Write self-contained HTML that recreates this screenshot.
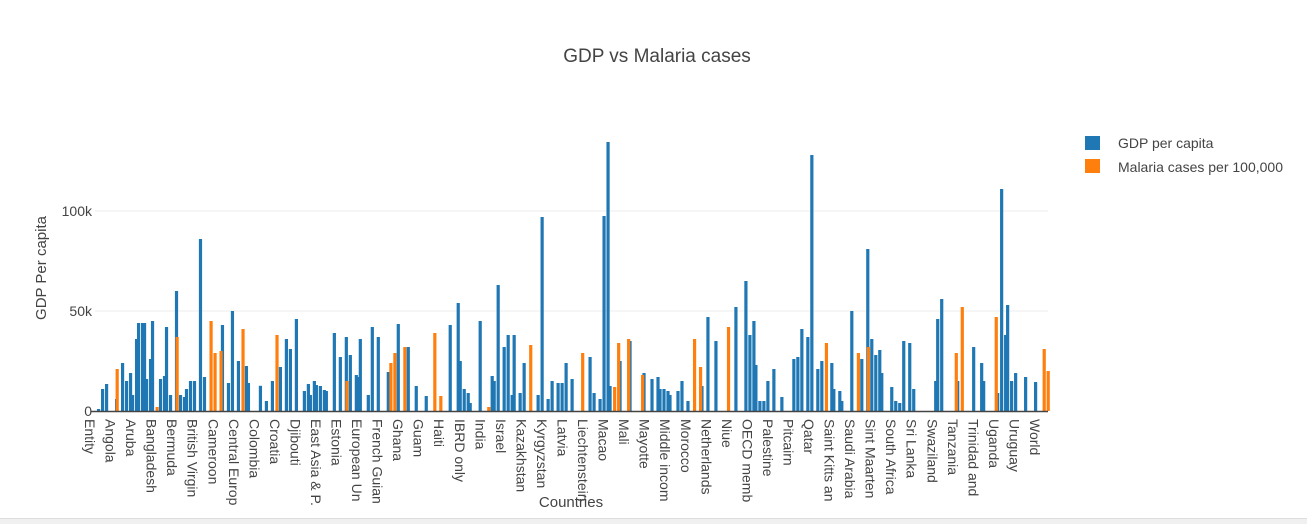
<!DOCTYPE html>
<html><head><meta charset="utf-8"><style>
body{margin:0;background:#fff;}
svg{display:block;font-family:"Liberation Sans","DejaVu Sans",sans-serif;}
</style></head><body>
<svg id="chart" width="1307" height="524" viewBox="0 0 1307 524">
<rect x="0" y="518" width="1307" height="6" fill="#f0f0f0"/>
<line x1="0" y1="518.5" x2="1307" y2="518.5" stroke="#ddd"/>
<text x="657" y="62" text-anchor="middle" font-size="19" fill="#444">GDP vs Malaria cases</text>
<g id="grid"></g>
<g id="bars"></g>
<g id="yticks"></g>
<g id="xticks"></g>
<text transform="translate(46,268) rotate(-90)" text-anchor="middle" font-size="15" fill="#444">GDP Per capita</text>
<text x="571" y="507" text-anchor="middle" font-size="15" fill="#444">Countries</text>
<g>
<g>
<rect x="1085" y="136" width="15" height="14" fill="#1f77b4"/>
<text x="1118" y="148" font-size="14" fill="#444">GDP per capita</text></g>
<g>
<rect x="1085" y="159" width="15" height="14" fill="#ff7f0e"/>
<text x="1118" y="172" font-size="14" fill="#444">Malaria cases per 100,000</text></g>
</g>
</svg>
<script>
const categoryCount = 477;
const gdpIndex = [1,3,5,10,13,15,17,18,20,21,23,24,25,27,28,32,34,35,37,40,42,44,45,47,49,52,54,63,66,68,71,75,76,82,85,88,92,95,97,100,104,106,107,109,110,112,114,115,119,122,125,127,130,131,132,136,138,141,146,151,156,160,165,177,181,182,184,186,187,192,198,199,201,204,206,208,209,212,214,221,223,226,228,231,233,235,238,247,249,252,254,256,257,262,267,274,278,281,282,284,286,287,291,293,296,303,306,310,320,325,327,329,330,332,334,336,339,343,349,351,353,356,358,361,363,368,369,372,373,378,383,386,388,390,392,393,398,400,402,404,407,409,420,421,423,431,439,443,444,451,453,455,456,458,460,465,470];
const gdpValues = [1,11,13.5,6,24,15,19,8,36,44,44,44,16,26,45,16,17.5,42,8,60,8,7,11,15,15,86,17,43,14,50,25,22.5,14,12.6,5,15,22,36,31,46,10,13.5,8,15,13,12.5,10.5,10,39,27,37,28,18,17,36,8,42,37,19.5,43.5,32,12.5,7.5,43,54,25,11,9,4,45,17.5,15,63,32,38,8,38,9,24,8,97,6,15,14,14,24,16,27,9,6,97.5,134.5,12.5,25,35,19,16,17,11,11,10,8,10,15,5,12.5,47,35,52,65,38,45,23,5,5,15,21,7,26,27,41,37,128,21,25,24,11,10,5,50,26,81,36,28,30.5,19,12,5,4,35,34,11,15,46,56,15,32,24,15,9,111,38,53,15,19,17,14.5];
const malariaIndex = [10,30,40,57,59,62,73,90,125,147,149,154,169,172,196,217,243,259,261,266,273,299,302,316,365,381,386,430,433,450,474,476];
const malariaValues = [21,2,37,45,29,30,41,38,15,24,29,32,39,7.5,2,33,29,12,34,36,18,36,22,42,34,29,32,29,52,47,31,20];
const yTickValues = [0,50,100];
const yTickLabels = ["0","50k","100k"];
const xTickLabels = ["Entity","Angola","Aruba","Bangladesh","Bermuda","British Virgin","Cameroon","Central Europ","Colombia","Croatia","Djibouti","East Asia & P.","Estonia","European Un","French Guian","Ghana","Guam","Haiti","IBRD only","India","Israel","Kazakhstan","Kyrgyzstan","Latvia","Liechtenstein","Macao","Mali","Mayotte","Middle incom","Morocco","Netherlands","Niue","OECD memb","Palestine","Pitcairn","Qatar","Saint Kitts an","Saudi Arabia","Sint Maarten","South Africa","Sri Lanka","Swaziland","Tanzania","Trinidad and","Uganda","Uruguay","World"];

const NS="http://www.w3.org/2000/svg";
const X0=95,X1=1048,Y0=411,Ypx=2;
const slot=(X1-X0)/categoryCount;
const xScale=i=>X0+i*slot;
const yScale=v=>Y0-v*Ypx;
function mk(tag,attrs,parent){const e=document.createElementNS(NS,tag);for(const k in attrs)e.setAttribute(k,attrs[k]);parent.appendChild(e);return e;}
const grid=document.getElementById('grid'),bars=document.getElementById('bars'),yt=document.getElementById('yticks'),xt=document.getElementById('xticks');
yTickValues.forEach((v,i)=>{
  if(v>0){const l=mk('line',{x1:X0,x2:X1,y1:yScale(v),y2:yScale(v),stroke:'#eee','stroke-width':1},grid);
  
  }
  const t=mk('text',{x:X0-3,y:yScale(v)+5,'text-anchor':'end','font-size':14,fill:'#444'},yt);
  t.textContent=yTickLabels[i];
  
  
});
gdpIndex.forEach((ci,i)=>{
  const r=mk('rect',{x:xScale(ci),y:yScale(gdpValues[i]),width:slot*1.6,height:gdpValues[i]*Ypx,fill:'#1f77b4'},bars);
  
  
});
malariaIndex.forEach((ci,i)=>{
  const r=mk('rect',{x:xScale(ci)+slot*0.3,y:yScale(malariaValues[i]),width:slot*1.6,height:malariaValues[i]*Ypx,fill:'#ff7f0e'},bars);
  
  
});
const base=mk('line',{x1:X0-4,x2:X1,y1:Y0+0.5,y2:Y0+0.5,stroke:'#444','stroke-width':1.5},bars);


const step=(1035-90)/(xTickLabels.length-1);
xTickLabels.forEach((s,i)=>{
  const x=90+i*step-5;
  const t=mk('text',{transform:`translate(${x},419) rotate(90)`,'font-size':14,fill:'#444'},xt);
  t.textContent=s.length>14?s.slice(0,14):s;
  
  
});
</script>
</body></html>
